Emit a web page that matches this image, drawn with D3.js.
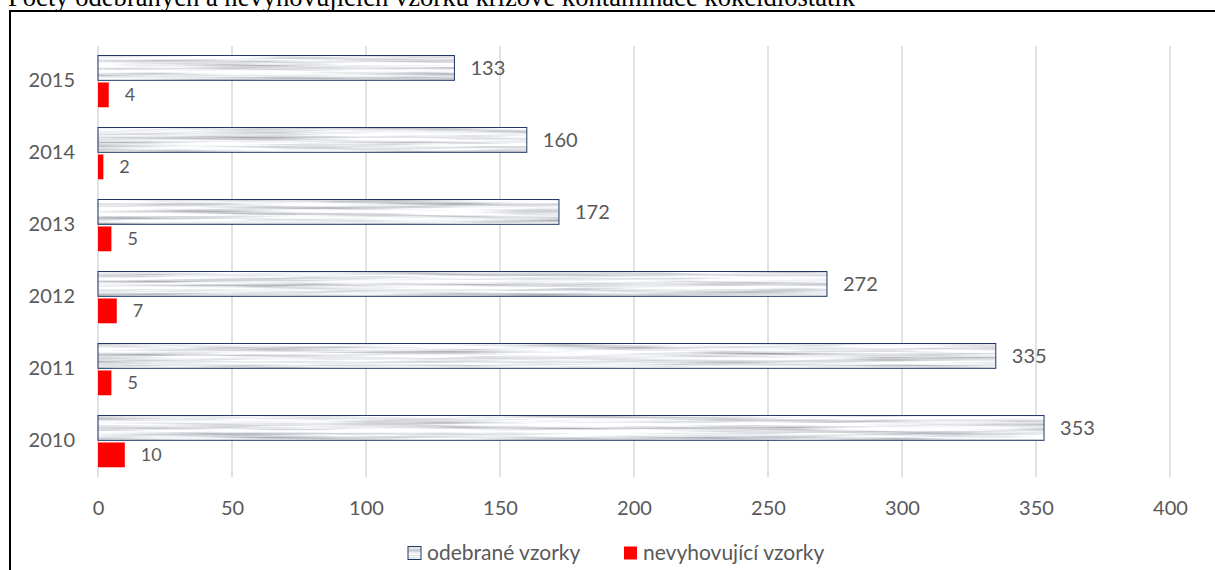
<!DOCTYPE html>
<html>
<head>
<meta charset="utf-8">
<script src="https://cdn.jsdelivr.net/npm/d3@7"></script>
<style>
  html, body { margin: 0; padding: 0; background: #fff; }
  svg { display: block; }
</style>
</head>
<body>
<svg id="chart" width="1215" height="570"></svg>
<script>
// Sample counts per year (cross-contamination by coccidiostats)
const years = ["2010", "2011", "2012", "2013", "2014", "2015"];
const sampled = [353, 335, 272, 172, 160, 133];
const nonCompliant = [10, 5, 7, 5, 2, 4];
const seriesNames = ["odebrané vzorky", "nevyhovující vzorky"];
const xTicks = [0, 50, 100, 150, 200, 250, 300, 350, 400];
const title = "Počty odebraných a nevyhovujících vzorků křížové kontaminace kokcidiostatik";

const W = 1215, H = 570;
const margin = { left: 98, right: 45, top: 45, bottom: 93 };
const font = "Lato, 'Open Sans', sans-serif";
const textColor = "#595959";

const svg = d3.select("#chart");

// streaky grey texture used for the sampled-count bars
const defs = svg.append("defs");
const f = defs.append("filter")
  .attr("id", "streaks")
  .attr("filterUnits", "objectBoundingBox")
  .attr("x", 0).attr("y", 0).attr("width", 1).attr("height", 1);
f.append("feTurbulence")
  .attr("type", "fractalNoise")
  .attr("baseFrequency", "0.006 0.3")
  .attr("numOctaves", 3)
  .attr("seed", 7)
  .attr("result", "noise");
f.append("feColorMatrix")
  .attr("in", "noise")
  .attr("type", "matrix")
  .attr("values",
    "1.2 0 0 0 0.22  " +
    "1.2 0 0 0 0.23  " +
    "1.2 0 0 0 0.26  " +
    "0 0 0 0 1")
  .attr("result", "grey");
f.append("feComposite")
  .attr("in", "grey")
  .attr("in2", "SourceGraphic")
  .attr("operator", "in");

// title (runs off the top edge) and outer frame
svg.append("text")
  .attr("x", 8).attr("y", 6)
  .attr("font-family", "'Liberation Serif', 'Times New Roman', serif")
  .attr("font-size", 26.6)
  .attr("fill", "#000")
  .text(title);

svg.append("rect")
  .attr("x", 10).attr("y", 11)
  .attr("width", 1400).attr("height", 800)
  .attr("fill", "none")
  .attr("stroke", "#000")
  .attr("stroke-width", 2);

const x = d3.scaleLinear().domain([0, 400]).range([margin.left, W - margin.right]);
const y = d3.scaleBand().domain(years.slice().reverse()).range([margin.top, H - margin.bottom]).padding(0);
const sub = d3.scaleBand().domain(seriesNames)
  .range([y.bandwidth() * 0.146, y.bandwidth() * 0.865]).paddingInner(0.08);

// vertical gridlines
svg.append("g")
  .selectAll("line")
  .data(xTicks)
  .join("line")
  .attr("x1", d => x(d)).attr("x2", d => x(d))
  .attr("y1", margin.top + 1).attr("y2", H - margin.bottom)
  .attr("stroke", "#d9d9d9")
  .attr("stroke-width", 1.5);

// x tick labels
const xAxis = d3.axisBottom(x).tickValues(xTicks).tickSize(0).tickPadding(0);
const gx = svg.append("g")
  .attr("transform", `translate(0, ${H - margin.bottom + 24})`)
  .call(xAxis);
gx.select(".domain").remove();
gx.selectAll("text")
  .attr("font-family", font)
  .attr("font-size", 20)
  .attr("fill", textColor)
  .attr("dy", "0.71em");

// year labels
const yAxis = d3.axisLeft(y).tickSize(0).tickPadding(23);
const gy = svg.append("g")
  .attr("transform", `translate(${margin.left}, 0)`)
  .call(yAxis);
gy.select(".domain").remove();
gy.selectAll("text")
  .attr("font-family", font)
  .attr("font-size", 20)
  .attr("fill", textColor);

const rows = years.map((yr, i) => ({ yr, s: sampled[i], n: nonCompliant[i] }));

// sampled bars: texture + navy outline
const gS = svg.append("g");
gS.selectAll("rect.fill")
  .data(rows)
  .join("rect")
  .attr("class", "fill")
  .attr("x", x(0))
  .attr("y", d => y(d.yr) + sub(seriesNames[0]))
  .attr("width", d => x(d.s) - x(0))
  .attr("height", sub.bandwidth())
  .attr("fill", "#fff")
  .attr("filter", "url(#streaks)");
gS.selectAll("rect.edge")
  .data(rows)
  .join("rect")
  .attr("class", "edge")
  .attr("x", x(0))
  .attr("y", d => y(d.yr) + sub(seriesNames[0]))
  .attr("width", d => x(d.s) - x(0))
  .attr("height", sub.bandwidth())
  .attr("fill", "none")
  .attr("stroke", "#203864")
  .attr("stroke-width", 1);
gS.selectAll("text")
  .data(rows)
  .join("text")
  .attr("x", d => x(d.s) + 16)
  .attr("y", d => y(d.yr) + sub(seriesNames[0]) + sub.bandwidth() / 2)
  .attr("dy", "0.35em")
  .attr("font-family", font)
  .attr("font-size", 20)
  .attr("fill", textColor)
  .text(d => d.s);

// non-compliant bars
const gN = svg.append("g");
gN.selectAll("rect")
  .data(rows)
  .join("rect")
  .attr("x", x(0))
  .attr("y", d => y(d.yr) + sub(seriesNames[1]))
  .attr("width", d => x(d.n) - x(0))
  .attr("height", sub.bandwidth())
  .attr("fill", "#ff0000");
gN.selectAll("text")
  .data(rows)
  .join("text")
  .attr("x", d => x(d.n) + 16)
  .attr("y", d => y(d.yr) + sub(seriesNames[1]) + sub.bandwidth() / 2)
  .attr("dy", "0.35em")
  .attr("font-family", font)
  .attr("font-size", 18)
  .attr("fill", textColor)
  .text(d => d.n);

// legend
const legend = svg.append("g").attr("transform", "translate(0, 553)");
const legendItems = [
  { name: seriesNames[0], x: 408 },
  { name: seriesNames[1], x: 624 }
];
legendItems.forEach((it, i) => {
  const sw = legend.append("rect")
    .attr("x", it.x).attr("y", -6.5)
    .attr("width", 13).attr("height", 13);
  if (i === 0) {
    sw.attr("fill", "#fff").attr("filter", "url(#streaks)");
    legend.append("rect")
      .attr("x", it.x).attr("y", -6.5)
      .attr("width", 13).attr("height", 13)
      .attr("fill", "none")
      .attr("stroke", "#203864").attr("stroke-width", 1);
  } else {
    sw.attr("fill", "#ff0000");
  }
  legend.append("text")
    .attr("x", it.x + 19)
    .attr("y", 0)
    .attr("dy", "0.35em")
    .attr("font-family", font)
    .attr("font-size", 21)
    .attr("fill", textColor)
    .text(it.name);
});
</script>
</body>
</html>
